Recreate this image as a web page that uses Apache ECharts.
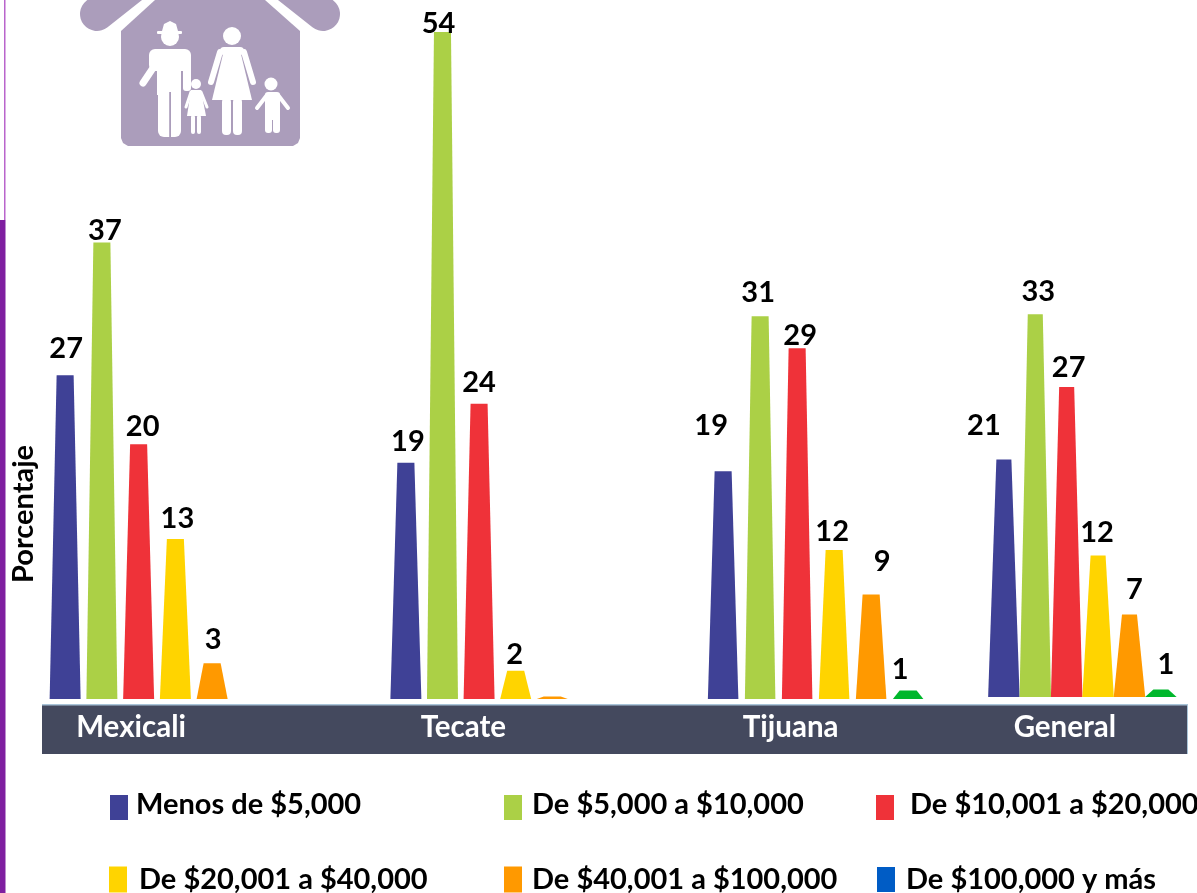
<!DOCTYPE html>
<html><head><meta charset="utf-8">
<style>html,body{margin:0;padding:0;background:#fff}#c{width:1197px;height:893px}</style>
<script src="https://cdn.jsdelivr.net/npm/echarts@6/dist/echarts.min.js"></script>
</head><body><div id="c"></div>
<script>
const categories = ['Mexicali','Tecate','Tijuana','General'];
const seriesNames = ['Menos de $5,000','De $5,000 a $10,000','De $10,001 a $20,000','De $20,001 a $40,000','De $40,001 a $100,000','De $100,000 y más'];
const menos5000   = [26.3, 19.2, 18.5, 19.3];
const de5a10      = [37.1, 54.2, 31.1, 31.1];
const de10a20     = [20.7, 24.0, 28.5, 25.2];
const de20a40     = [13.0,  2.3, 12.1, 11.5];
const de40a100    = [ 2.9,  0.2,  8.5,  6.7];
const de100ymas   = [null, null,  0.7,  0.6];
const printedMenos5000 = [27, 19, 19, 21];
const printedDe5a10    = [37, 54, 31, 33];
const printedDe10a20   = [20, 24, 29, 27];
const printedDe20a40   = [13,  2, 12, 12];
const printedDe40a100  = [ 3, null, 9, 7];
const printedDe100ymas = [null, null, 1, 1];

const values = [menos5000,de5a10,de10a20,de20a40,de40a100,de100ymas];
const printed = [printedMenos5000,printedDe5a10,printedDe10a20,printedDe20a40,printedDe40a100,printedDe100ymas];
const colors = ['#3f4196','#abd046','#ef3239','#ffd400','#ff9900','#00b72c'];
const legendColors = ['#3f4196','#abd046','#ef3239','#ffd400','#ff9900','#005cc5'];

// Layout (pixels, relative to each category's band centre)
const FONT = 'Lato, Carlito, "Open Sans", sans-serif';
const groupLayout = [
  {start:-120, pitch:36.75, top:17, base:31, shift:0},
  {start:-65.5, pitch:36.6, top:17, base:31, shift:0},
  {start:-34.5, pitch:37, top:17, base:30.5, shift:0},
  {start:-40, pitch:31.4, top:15, base:31.5, shift:-2}
];
const labelNudge = [
  [[1,-28],[3,-13],[4,-19],[2,-22],[1,-25],[0,0]],
  [[2,-23],[-4,-10],[0,-23],[-1,-18],[0,0],[0,0]],
  [[-12,-47],[-2,-25],[3,-14],[-2,-20],[11,-34],[-8,-22]],
  [[-20,-35],[3,-24],[2,-21],[-1,-24],[5,-26],[5,-26]]
];
const LABEL_DROP = 1.5;
const catLabelShift = [-54,-8,33,21];
// Row-one icons sit below their text: the swatch path keeps a blank 6-unit head.
const liftedIcon = 'path://M0 0L0 0ZM0 6H18V31H0Z';
const legendPos = [
  {left:110,top:789,w:18,h:31,gap:3,icon:liftedIcon},{left:504,top:789,w:18,h:31,gap:5,icon:liftedIcon},{left:876,top:789,w:18,h:31,gap:11,icon:liftedIcon},
  {left:109,top:865,w:18,h:26,gap:7,icon:'rect'},{left:504,top:865,w:18,h:26,gap:5,icon:'rect'},{left:877,top:865,w:18,h:25,gap:6,icon:'rect'}
];

function trapezoid(si){
  return function(params, api){
    const cat = api.value(0), val = api.value(1);
    if (val === null || val === undefined || isNaN(val)) return;
    const g = groupLayout[cat];
    const c = api.coord([cat, val]), b = api.coord([cat, 0]);
    const x = c[0] + g.start + si*g.pitch;
    const yT = c[1] + g.shift, yB = b[1] + g.shift;
    const children = [{
      type:'polygon',
      shape:{points:[[x-g.base/2,yB],[x-g.top/2,yT],[x+g.top/2,yT],[x+g.base/2,yB]]},
      style:{fill:colors[si]}
    }];
    const txt = printed[si][cat];
    if (txt !== null){
      const n = labelNudge[cat][si];
      children.push({type:'text',style:{text:String(txt),x:x+n[0],y:yT+n[1]+LABEL_DROP,fill:'#000',
        font:'bold 29px '+FONT,align:'center',verticalAlign:'middle'}});
    }
    return {type:'group',children};
  };
}

const W = '#fff', R = '#ab9dbb';
const stroke = (pts,w,col)=>({type:'polyline',shape:{points:pts},style:{stroke:col||W,lineWidth:w,lineCap:'round',lineJoin:'round',fill:null},z:3});
const poly = (pts,col)=>({type:'polygon',shape:{points:pts},style:{fill:col||W},z:3});
const circ = (x,y,r)=>({type:'circle',shape:{cx:x,cy:y,r},style:{fill:W},z:3});
const rect = (x,y,w,h,r,col)=>({type:'rect',shape:{x,y,width:w,height:h,r:r||0},style:{fill:col||W},z:3});

const houseIcon = [
  stroke([[97,14],[155,-32]],34,R), stroke([[323,14],[265,-32]],34,R),
  poly([[121,31],[155,0],[265,0],[300,31],[300,138],[298,143],[293,146],[128,146],[123,143],[121,138]],R),
  // man
  circ(170,37,9), rect(157,31,25,3,1), poly([[162,31],[164,24],[170,21],[176,24],[178,31]]),
  rect(149,49,42,22,6), rect(157,55,24,40), rect(158,85,23,52,6), rect(169.2,92,1.8,46,0,R),
  rect(183,55,8,36,3), stroke([[153,68],[143,83]],7),
  // girl
  circ(196,84,5), poly([[191,90],[201,90],[206,116],[187,116]]), stroke([[191,92],[186,107]],3), stroke([[201,92],[207,107]],3),
  rect(191,115,4,19,2), rect(197,115,4,19,2),
  // woman
  circ(232,36,9), rect(220,47,24,8,4), poly([[224,50],[240,50],[252,100],[212,100]]),
  stroke([[220,52],[211,82]],6), stroke([[244,52],[253,82]],6),
  rect(222,98,9,37,4), rect(233,98,9,37,4),
  // boy
  circ(271,84,6.5), rect(265,92,15,28,3), stroke([[267,95],[257,108]],4), stroke([[278,95],[288,108]],4),
  rect(265,115,7,18,3), rect(273,115,7,18,3)
];

const option = {
  animation:false,
  backgroundColor:'#fff',
  textStyle:{fontFamily:FONT},
  grid:{left:42,right:10,top:0,bottom:194},
  xAxis:{type:'category',data:categories,axisLine:{show:false},axisTick:{show:false},splitLine:{show:false},
    axisLabel:{interval:0,margin:13,
      formatter:(v,i)=>`{c${i}|${v}}`,
      rich:Object.fromEntries(catLabelShift.map((d,i)=>['c'+i,{
        color:'#fff',fontFamily:FONT,fontWeight:'bold',fontSize:29.5,
        padding:d<0?[0,-2*d,0,0]:[0,0,0,2*d]}]))
    }},
  yAxis:{type:'value',min:0,max:56.8,offset:18,show:true,splitLine:{show:false},axisLine:{show:false},axisTick:{show:false},axisLabel:{show:false},
    name:'Porcentaje',nameLocation:'start',nameGap:-185,nameRotate:90,
    nameTextStyle:{color:'#000',fontFamily:FONT,fontWeight:'bold',fontSize:29,align:'center',verticalAlign:'middle'}},
  legend:seriesNames.map((n,i)=>({
    left:legendPos[i].left,top:legendPos[i].top,padding:0,selectedMode:false,
    itemWidth:legendPos[i].w,itemHeight:legendPos[i].h,icon:legendPos[i].icon,
    data:[{name:n,itemStyle:{color:legendColors[i]}}],
    textStyle:{color:'#000',fontFamily:FONT,fontWeight:'bold',fontSize:29,padding:[0,0,0,legendPos[i].gap]}
  })),
  graphic:[
    {type:'rect',silent:true,z:-10,shape:{x:4,y:0,width:1.5,height:220},style:{fill:'#b965cc'}},
    {type:'rect',silent:true,z:-10,shape:{x:0,y:220,width:5.5,height:673},style:{fill:'#7f1fa0'}},
    {type:'rect',silent:true,z:-10,shape:{x:42,y:705,width:1145,height:49},style:{fill:'#44495e'}},
    {type:'rect',silent:true,z:-9,shape:{x:42,y:704,width:1146,height:1.5},style:{fill:'#a9c4d8'}},
    {type:'rect',silent:true,z:-9,shape:{x:1187,y:704,width:1,height:50},style:{fill:'#a9c4d8'}},
    {type:'group',silent:true,z:-5,children:houseIcon}
  ],
  series:seriesNames.map((n,si)=>({
    name:n,type:'custom',coordinateSystem:'cartesian2d',clip:false,
    itemStyle:{color:colors[si]},
    renderItem:trapezoid(si),
    encode:{x:0,y:1},
    data:values[si].map((v,c)=>[c,v])
  }))
};
echarts.init(document.getElementById('c')).setOption(option);
</script></body></html>
